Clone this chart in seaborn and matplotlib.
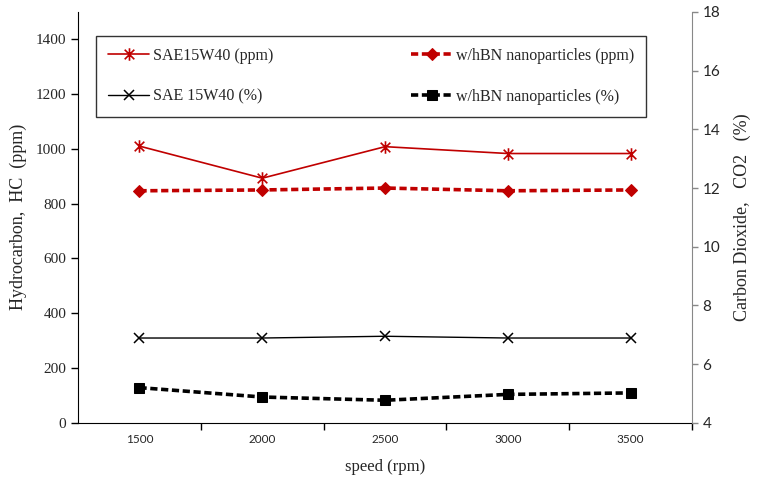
import numpy as np
import pandas as pd
import seaborn as sns
import matplotlib
matplotlib.use("Agg")
from matplotlib import pyplot as plt
from matplotlib.path import Path

speed = ["1500", "2000", "2500", "3000", "3500"]
hc_base = [1010, 893, 1008, 983, 983]
hc_hbn = [847, 850, 857, 847, 850]
co2_base = [6.89, 6.89, 6.95, 6.89, 6.89]
co2_hbn = [5.20, 4.88, 4.77, 4.97, 5.02]

sns.set_style("ticks")
plt.rcParams["font.family"] = ["Liberation Serif", "DejaVu Serif"]

df = pd.DataFrame({"pos": np.arange(len(speed)), "speed": speed,
                   "hc_base": hc_base, "hc_hbn": hc_hbn,
                   "co2_base": co2_base, "co2_hbn": co2_hbn})

# excel style star: x with a vertical bar
star = Path([(-1, -1), (1, 1), (-1, 1), (1, -1), (0, -1.3), (0, 1.3)],
            [Path.MOVETO, Path.LINETO, Path.MOVETO, Path.LINETO, Path.MOVETO, Path.LINETO])

red = "#C00000"
fig, ax = plt.subplots(figsize=(7.58, 4.94), dpi=100)
fig.subplots_adjust(left=0.103, right=0.913, bottom=0.144, top=0.976)
ax2 = ax.twinx()

sns.lineplot(data=df, x="pos", y="hc_base", ax=ax, color=red, lw=1.2,
             marker=star, markersize=9, markeredgewidth=1.2, markeredgecolor=red,
             label="SAE15W40 (ppm)", legend=False)
sns.lineplot(data=df, x="pos", y="hc_hbn", ax=ax, color=red, lw=2.6, linestyle=(0, (2, 1)),
             marker="D", markersize=6.5, markeredgecolor=red,
             label="w/hBN nanoparticles (ppm)", legend=False)
sns.lineplot(data=df, x="pos", y="co2_base", ax=ax2, color="black", lw=1.0,
             marker="x", markersize=7, markeredgewidth=1.1, markeredgecolor="black",
             label="SAE 15W40 (%)", legend=False)
sns.lineplot(data=df, x="pos", y="co2_hbn", ax=ax2, color="black", lw=2.6, linestyle=(0, (2, 1)),
             marker="s", markersize=7.5, markeredgecolor="black",
             label="w/hBN nanoparticles (%)", legend=False)

ax.set_xlim(-0.5, len(speed) - 0.5)
ax.set_ylim(0, 1500)
ax.set_yticks(range(0, 1401, 200))
ax2.set_ylim(4, 18)
ax2.set_yticks(range(4, 19, 2))

ax.set_xticks(np.arange(len(speed)) + 0.5)
ax.set_xticklabels([])
ax.set_xticks(np.arange(len(speed)), minor=True)
ax.set_xticklabels(speed, minor=True, fontfamily="Lato", fontsize=8.5)
ax.tick_params(axis="x", which="major", length=5, width=1, color="black", direction="out")
ax.tick_params(axis="x", which="minor", length=0, pad=8)
ax.tick_params(axis="y", length=5, width=1, color="black", labelsize=11)
ax2.tick_params(axis="y", length=4, width=1, color="#888888", labelsize=11)
for lab in ax2.get_yticklabels():
    lab.set_fontfamily("Lato")

ax.set_xlabel("speed (rpm)", fontsize=12, labelpad=10)
ax.set_ylabel("Hydrocarbon,  HC  (ppm)", fontsize=13, labelpad=6)
ax2.set_ylabel("Carbon Dioxide,   CO2   (%)", fontsize=13, labelpad=10)

for s in ["top", "right"]:
    ax.spines[s].set_visible(False)
ax.spines["left"].set_color("black")
ax.spines["bottom"].set_color("black")
for s in ["top", "left", "bottom"]:
    ax2.spines[s].set_visible(False)
ax2.spines["right"].set_color("#888888")

h1, l1 = ax.get_legend_handles_labels()
h2, l2 = ax2.get_legend_handles_labels()
handles = [h1[0], h2[0], h1[1], h2[1]]
labels = [l1[0], l2[0], l1[1], l2[1]]
leg = ax2.legend(handles, labels, ncol=2, loc="lower left", mode="expand",
                 bbox_to_anchor=(0.029, 0.745, 0.896, 0.201), fontsize=11.5,
                 frameon=True, fancybox=False, edgecolor="black", handlelength=2.6,
                 handletextpad=0.2, borderpad=0.75, labelspacing=1.55, borderaxespad=0)
leg.get_frame().set_linewidth(1.0)

fig.savefig("out.png", dpi=100)
